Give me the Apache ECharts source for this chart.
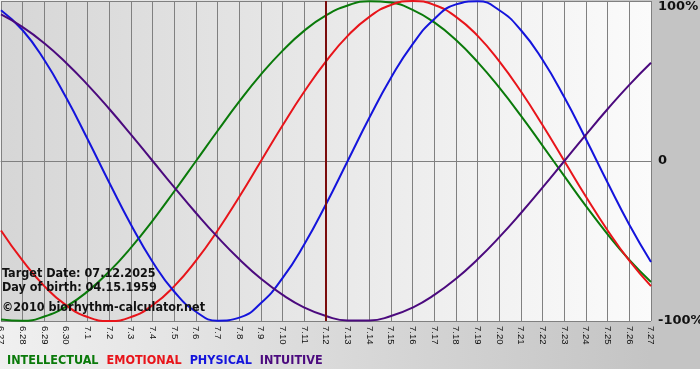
<!DOCTYPE html>
<html><head><meta charset="utf-8">
<script src="https://cdn.jsdelivr.net/npm/echarts@6/dist/echarts.min.js"></script>
<style>html,body{margin:0;padding:0;background:#fff}#c{width:700px;height:380px}</style>
</head><body><div id="c"></div>
<script>
const days = ['6.27','6.28','6.29','6.30','7.1','7.2','7.3','7.4','7.5','7.6','7.7','7.8','7.9','7.10','7.11','7.12','7.13','7.14','7.15','7.16','7.17','7.18','7.19','7.20','7.21','7.22','7.23','7.24','7.25','7.26','7.27'];
const intellectual = [-99.0,-99.9,-97.2,-91.0,-81.5,-69.0,-54.1,-37.2,-18.9,0,18.9,37.2,54.1,69.0,81.5,91.0,97.2,99.9,99.0,94.5,86.6,75.6,61.8,45.8,28.2,9.5,-9.5,-28.2,-45.8,-61.8,-75.6];
const emotional = [-43.4,-62.3,-78.2,-90.1,-97.5,-100,-97.5,-90.1,-78.2,-62.3,-43.4,-22.3,0,22.3,43.4,62.3,78.2,90.1,97.5,100,97.5,90.1,78.2,62.3,43.4,22.3,0,-22.3,-43.4,-62.3,-78.2];
const physical = [94.2,81.7,63.1,39.8,13.6,-13.6,-39.8,-63.1,-81.7,-94.2,-99.8,-97.9,-88.8,-73.1,-52.0,-27.0,0,27.0,52.0,73.1,88.8,97.9,99.8,94.2,81.7,63.1,39.8,13.6,-13.6,-39.8,-63.1];
const intuitive = [91.6,83.7,73.6,61.4,47.6,32.5,16.5,0,-16.5,-32.5,-47.6,-61.4,-73.6,-83.7,-91.6,-96.9,-99.7,-99.7,-96.9,-91.6,-83.7,-73.6,-61.4,-47.6,-32.5,-16.5,0,16.5,32.5,47.6,61.4];
const targetDay = '7.12';
const yTicks = {'100':'100%','0':'0','-100':'-100%'};
const infoLines = ['Target Date: 07.12.2025','Day of birth: 04.15.1959','©2010 biorhythm-calculator.net'];
const names = ['INTELLECTUAL','EMOTIONAL','PHYSICAL','INTUITIVE'];
const colors = ['#0a7a0a','#e8141a','#1414dc','#4b0a7e'];
const values = [intellectual, emotional, physical, intuitive];

const chart = echarts.init(document.getElementById('c'), null, {renderer:'canvas'});
const font = 'DejaVu Sans';
const cfont = 'DejaVu Sans Condensed';
const series = names.map((n,i)=>({
  name:n, type:'line', data:values[i], smooth:true, symbol:'none',
  lineStyle:{color:colors[i], width:2}, itemStyle:{color:colors[i]}, z:3,
  markLine: i===0 ? {silent:true, symbol:'none', label:{show:false},
    lineStyle:{color:'#7a0c0c', width:2, type:'solid'}, data:[{xAxis:targetDay}]} : undefined
}));
chart.setOption({
  animation:false,
  backgroundColor:'#ffffff',
  graphic:[
    {type:'rect', z:-10, silent:true, shape:{x:0,y:0,width:700,height:369},
     style:{fill:new echarts.graphic.LinearGradient(0,0,1,0,[{offset:0,color:'#f0f0f0'},{offset:0.93,color:'#c4c4c4'},{offset:1,color:'#c4c4c4'}])}},
    ...infoLines.map((t,i)=>({type:'text', z:100, silent:true, left:2, top:[267,281,301][i],
      style:{text:t, fill:'#111', font:'bold 12.5px "DejaVu Sans Condensed"'}}))
  ],
  legend:{left:2, top:354, padding:0, itemWidth:0, itemHeight:0, itemGap:3, icon:'none', selectedMode:false,
    data:names.map((n,i)=>({name:n, icon:'none', textStyle:{color:colors[i], fontFamily:cfont, fontWeight:'bold', fontSize:12.5}}))},
  grid:{left:1, right:49, top:1, bottom:59, outerBoundsMode:'none', containLabel:false, show:true, borderWidth:0,
    backgroundColor:new echarts.graphic.LinearGradient(0,0,1,0,[{offset:0,color:'#d6d6d6'},{offset:1,color:'#fbfbfb'}])},
  xAxis:{type:'category', data:days, boundaryGap:false,
    axisLine:{lineStyle:{color:'#808080', width:1}},
    axisTick:{show:true, length:3, interval:0, lineStyle:{color:'#808080'}},
    splitLine:{show:true, interval:0, lineStyle:{color:'#808080', width:1}},
    axisLabel:{interval:0, rotate:-90, margin:5, fontFamily:'Liberation Sans', fontSize:9.5, color:'#111', hideOverlap:false}},
  yAxis:{type:'value', position:'right', min:-100, max:100, interval:100,
    axisLine:{show:false}, axisTick:{show:false},
    splitLine:{show:true, lineStyle:{color:'#808080', width:1}},
    axisLabel:{margin:7, fontFamily:font, fontWeight:'bold', fontSize:13, color:'#111',
      formatter:v=> v===100 ? '{t|'+yTicks['100']+'}' : yTicks[String(v)],
      rich:{t:{padding:[12,0,0,0], fontFamily:font, fontWeight:'bold', fontSize:13, color:'#111'}}}},
  series
});
</script></body></html>
